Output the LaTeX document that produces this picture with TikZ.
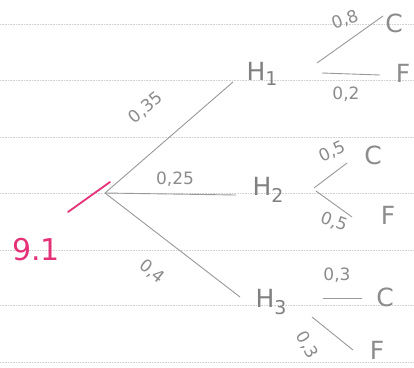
\documentclass[tikz,border=0pt]{standalone}
\usepackage{fontspec}
\setmainfont{DejaVu Sans}
\definecolor{pinkink}{RGB}{228,50,120}
\begin{document}
\begin{tikzpicture}[x=1pt,y=-1pt,
  pencil/.style={draw=black!40, line width=0.9pt},
  rule/.style={draw=black!18, line width=0.6pt, densely dotted},
  prob/.style={text=black!45, font=\fontsize{17}{17}\selectfont, inner sep=0pt},
  hyp/.style={text=black!50, font=\fontsize{25}{25}\selectfont, inner sep=0pt},
  outcome/.style={text=black!45, font=\fontsize{25}{25}\selectfont, inner sep=0pt},
  ink/.style={draw=pinkink, line width=1.8pt, line cap=round}]
\useasboundingbox (0,0) rectangle (414,367);
\fill[white] (0,0) rectangle (414,367);
% ruled lines
\foreach \yy in {24,80,137,193,250,305,362}
  \draw[rule] (0,\yy) -- (414,\yy);
% pink mark and label
\coordinate (p1) at (68,212);
\coordinate (p2) at (110,182);
\draw[ink] (p1) -- (p2);
\node[text=pinkink, font=\fontsize{30}{30}\selectfont, inner sep=0pt] (q) at (36,250) {9.1};
% root and first branches
\coordinate (root) at (105,193);
\coordinate (e1) at (233,82);
\coordinate (e2) at (236,195);
\coordinate (e3) at (240,297);
\draw[pencil] (root) -- (e1);
\draw[pencil] (root) -- (e2);
\draw[pencil] (root) -- (e3);
\node[prob, rotate=40] (l1) at (146,108) {0,35};
\node[prob] (l2) at (175,179) {0,25};
\node[prob, rotate=-38] (l3) at (152,272) {0,4};
\node[hyp] (H1) at (262,74) {H\raisebox{-0.2em}{\fontsize{19}{19}\selectfont 1}};
\node[hyp] (H2) at (268,190) {H\raisebox{-0.3em}{\fontsize{19}{19}\selectfont 2}};
\node[hyp] (H3) at (271,302) {H\raisebox{-0.3em}{\fontsize{19}{19}\selectfont 3}};
% H1 sub-branches
\coordinate (a1) at (317,63);
\coordinate (a2) at (383,16);
\coordinate (b1) at (322,73);
\coordinate (b2) at (380,75);
\draw[pencil] (a1) -- (a2);
\draw[pencil] (b1) -- (b2);
\node[prob, rotate=20] (l11) at (345,20) {0,8};
\node[prob] (l12) at (346,94) {0,2};
\node[outcome] (C1) at (394,23) {C};
\node[outcome] (F1) at (403,73) {F};
% H2 sub-branches
\coordinate (c1) at (314,188);
\coordinate (c2) at (347,163);
\coordinate (d1) at (316,191);
\coordinate (d2) at (352,217);
\draw[pencil] (c1) -- (c2);
\draw[pencil] (d1) -- (d2);
\node[prob, rotate=25] (l21) at (332,152) {0,5};
\node[prob, rotate=-20] (l22) at (334,222) {0,5};
\node[outcome] (C2) at (373,155) {C};
\node[outcome] (F2) at (388,215) {F};
% H3 sub-branches
\coordinate (f1) at (323,298);
\coordinate (f2) at (362,298);
\coordinate (g1) at (312,317);
\coordinate (g2) at (353,350);
\draw[pencil] (f1) -- (f2);
\draw[pencil] (g1) -- (g2);
\node[prob] (l31) at (337,275) {0,3};
\node[prob, rotate=-60] (l32) at (307,345) {0,3};
\node[outcome] (C3) at (385,297) {C};
\node[outcome] (F3) at (377,350) {F};
\end{tikzpicture}
\end{document}
